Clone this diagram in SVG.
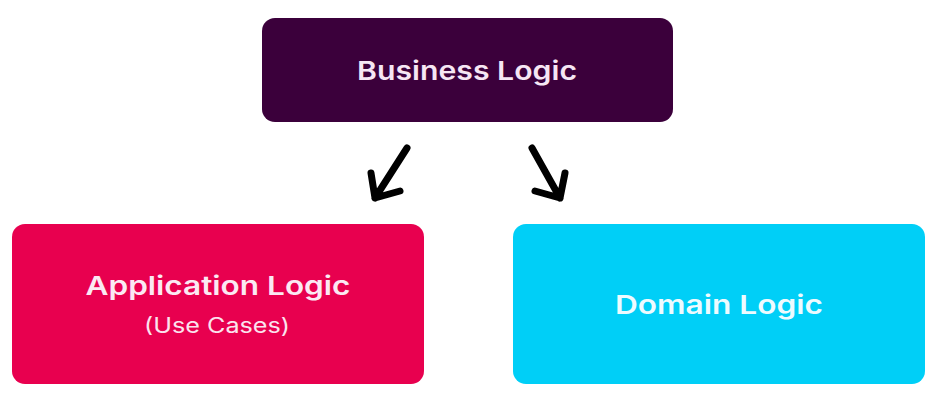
<svg xmlns="http://www.w3.org/2000/svg" width="937" height="408" viewBox="0 0 937 408">
<style>
.box{stroke:none}
.t{font-family:Inter,"Open Sans","Liberation Sans",sans-serif;font-weight:600;font-size:26px;text-anchor:middle}
.s{font-family:Inter,"Open Sans","Liberation Sans",sans-serif;font-weight:400;font-size:21px;text-anchor:middle}
.arr{fill:none;stroke:#000;stroke-width:7;stroke-linecap:round;stroke-linejoin:round}
</style>
<rect width="937" height="408" fill="#fff"/>
<g id="business">
<rect class="box" x="262" y="18" width="411" height="104" rx="13" fill="#3b003b"/>
<text class="t" x="467" y="80" fill="#f6e6f4" textLength="220" lengthAdjust="spacingAndGlyphs">Business Logic</text>
</g>
<g id="application">
<rect class="box" x="12" y="224" width="412" height="160" rx="13" fill="#e8004f"/>
<text class="t" x="218" y="295" fill="#fbe9f3" textLength="265" lengthAdjust="spacingAndGlyphs">Application Logic</text>
<text class="s" x="217" y="333" fill="#fbe3ee" textLength="146" lengthAdjust="spacingAndGlyphs">(Use Cases)</text>
</g>
<g id="domain">
<rect class="box" x="513" y="224" width="412" height="160" rx="13" fill="#00cff7"/>
<text class="t" x="719" y="314" fill="#eefbff" textLength="208" lengthAdjust="spacingAndGlyphs">Domain Logic</text>
</g>
<g id="connectors">
<path class="arr" d="M407 148 L375 198 M371 173 L375 198 L400 191"/>
<path class="arr" d="M532 148 L560 198 M565 173 L560 198 L535 191"/>
</g>
</svg>
